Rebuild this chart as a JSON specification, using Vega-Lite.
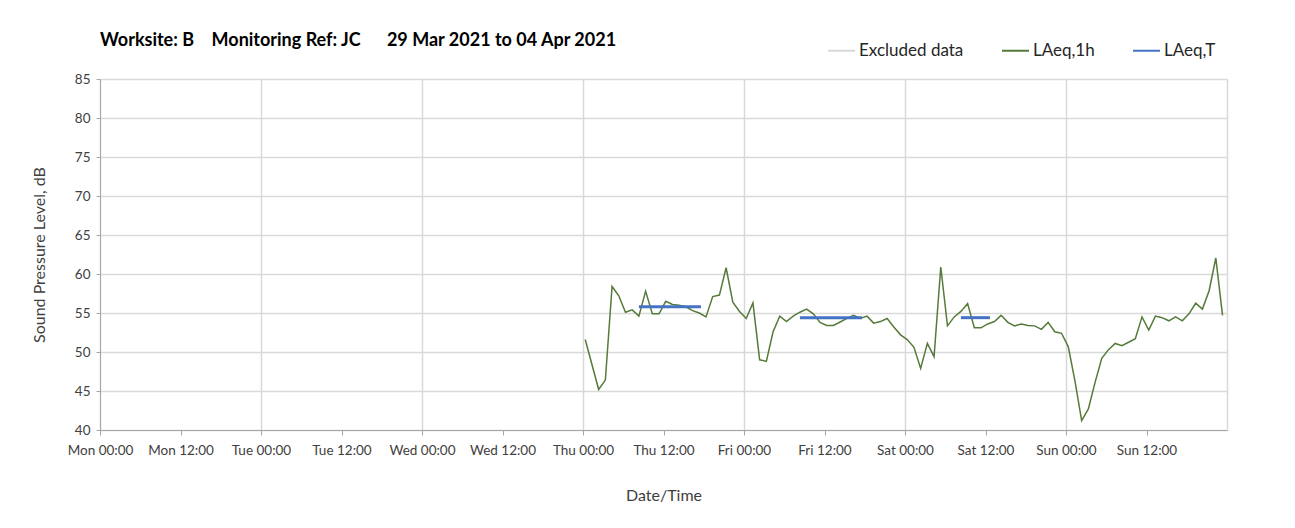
{
  "$schema": "https://vega.github.io/schema/vega-lite/v6.json",
  "width": 1295,
  "height": 528,
  "autosize": {"type": "fit", "contains": "padding"},
  "padding": {"left": 31, "top": 32, "right": 68, "bottom": 24},
  "title": {
    "text": "Worksite: B\u00a0\u00a0\u00a0 Monitoring Ref: JC\u00a0\u00a0\u00a0\u00a0\u00a0 29 Mar 2021 to 04 Apr 2021",
    "anchor": "start",
    "frame": "group",
    "fontSize": 18,
    "fontWeight": "bold",
    "color": "#000000",
    "offset": 22
  },
  "config": {
    "font": "Lato",
    "view": {"stroke": null},
    "axis": {
      "labelColor": "#404040",
      "titleColor": "#404040",
      "titleFontWeight": "normal",
      "domainColor": "#a6a6a6",
      "tickColor": "#a6a6a6",
      "gridColor": "#d9d9d9",
      "gridWidth": 1.5
    }
  },
  "resolve": {"axis": {"x": "independent"}},
  "layer": [
    {
      "data": {"values": [
      {"time": "2021-04-01T00:20:00", "level": 51.6, "series": "LAeq,1h"},
      {"time": "2021-04-01T01:20:00", "level": 48.4, "series": "LAeq,1h"},
      {"time": "2021-04-01T02:20:00", "level": 45.2, "series": "LAeq,1h"},
      {"time": "2021-04-01T03:20:00", "level": 46.4, "series": "LAeq,1h"},
      {"time": "2021-04-01T04:20:00", "level": 58.4, "series": "LAeq,1h"},
      {"time": "2021-04-01T05:20:00", "level": 57.2, "series": "LAeq,1h"},
      {"time": "2021-04-01T06:20:00", "level": 55.1, "series": "LAeq,1h"},
      {"time": "2021-04-01T07:20:00", "level": 55.4, "series": "LAeq,1h"},
      {"time": "2021-04-01T08:20:00", "level": 54.6, "series": "LAeq,1h"},
      {"time": "2021-04-01T09:20:00", "level": 57.8, "series": "LAeq,1h"},
      {"time": "2021-04-01T10:20:00", "level": 54.9, "series": "LAeq,1h"},
      {"time": "2021-04-01T11:20:00", "level": 54.9, "series": "LAeq,1h"},
      {"time": "2021-04-01T12:20:00", "level": 56.5, "series": "LAeq,1h"},
      {"time": "2021-04-01T13:20:00", "level": 56.1, "series": "LAeq,1h"},
      {"time": "2021-04-01T14:20:00", "level": 56.0, "series": "LAeq,1h"},
      {"time": "2021-04-01T15:20:00", "level": 55.8, "series": "LAeq,1h"},
      {"time": "2021-04-01T16:20:00", "level": 55.3, "series": "LAeq,1h"},
      {"time": "2021-04-01T17:20:00", "level": 55.0, "series": "LAeq,1h"},
      {"time": "2021-04-01T18:20:00", "level": 54.5, "series": "LAeq,1h"},
      {"time": "2021-04-01T19:20:00", "level": 57.1, "series": "LAeq,1h"},
      {"time": "2021-04-01T20:20:00", "level": 57.3, "series": "LAeq,1h"},
      {"time": "2021-04-01T21:20:00", "level": 60.8, "series": "LAeq,1h"},
      {"time": "2021-04-01T22:20:00", "level": 56.4, "series": "LAeq,1h"},
      {"time": "2021-04-01T23:20:00", "level": 55.2, "series": "LAeq,1h"},
      {"time": "2021-04-02T00:20:00", "level": 54.3, "series": "LAeq,1h"},
      {"time": "2021-04-02T01:20:00", "level": 56.3, "series": "LAeq,1h"},
      {"time": "2021-04-02T02:20:00", "level": 49.0, "series": "LAeq,1h"},
      {"time": "2021-04-02T03:20:00", "level": 48.8, "series": "LAeq,1h"},
      {"time": "2021-04-02T04:20:00", "level": 52.6, "series": "LAeq,1h"},
      {"time": "2021-04-02T05:20:00", "level": 54.6, "series": "LAeq,1h"},
      {"time": "2021-04-02T06:20:00", "level": 53.9, "series": "LAeq,1h"},
      {"time": "2021-04-02T07:20:00", "level": 54.6, "series": "LAeq,1h"},
      {"time": "2021-04-02T08:20:00", "level": 55.1, "series": "LAeq,1h"},
      {"time": "2021-04-02T09:20:00", "level": 55.5, "series": "LAeq,1h"},
      {"time": "2021-04-02T10:20:00", "level": 54.9, "series": "LAeq,1h"},
      {"time": "2021-04-02T11:20:00", "level": 53.8, "series": "LAeq,1h"},
      {"time": "2021-04-02T12:20:00", "level": 53.4, "series": "LAeq,1h"},
      {"time": "2021-04-02T13:20:00", "level": 53.4, "series": "LAeq,1h"},
      {"time": "2021-04-02T14:20:00", "level": 53.85, "series": "LAeq,1h"},
      {"time": "2021-04-02T15:20:00", "level": 54.3, "series": "LAeq,1h"},
      {"time": "2021-04-02T16:20:00", "level": 54.7, "series": "LAeq,1h"},
      {"time": "2021-04-02T17:20:00", "level": 54.3, "series": "LAeq,1h"},
      {"time": "2021-04-02T18:20:00", "level": 54.6, "series": "LAeq,1h"},
      {"time": "2021-04-02T19:20:00", "level": 53.7, "series": "LAeq,1h"},
      {"time": "2021-04-02T20:20:00", "level": 53.9, "series": "LAeq,1h"},
      {"time": "2021-04-02T21:20:00", "level": 54.3, "series": "LAeq,1h"},
      {"time": "2021-04-02T22:20:00", "level": 53.2, "series": "LAeq,1h"},
      {"time": "2021-04-02T23:20:00", "level": 52.2, "series": "LAeq,1h"},
      {"time": "2021-04-03T00:20:00", "level": 51.6, "series": "LAeq,1h"},
      {"time": "2021-04-03T01:20:00", "level": 50.6, "series": "LAeq,1h"},
      {"time": "2021-04-03T02:20:00", "level": 47.9, "series": "LAeq,1h"},
      {"time": "2021-04-03T03:20:00", "level": 51.1, "series": "LAeq,1h"},
      {"time": "2021-04-03T04:20:00", "level": 49.4, "series": "LAeq,1h"},
      {"time": "2021-04-03T05:20:00", "level": 60.9, "series": "LAeq,1h"},
      {"time": "2021-04-03T06:20:00", "level": 53.35, "series": "LAeq,1h"},
      {"time": "2021-04-03T07:20:00", "level": 54.5, "series": "LAeq,1h"},
      {"time": "2021-04-03T08:20:00", "level": 55.2, "series": "LAeq,1h"},
      {"time": "2021-04-03T09:20:00", "level": 56.2, "series": "LAeq,1h"},
      {"time": "2021-04-03T10:20:00", "level": 53.1, "series": "LAeq,1h"},
      {"time": "2021-04-03T11:20:00", "level": 53.1, "series": "LAeq,1h"},
      {"time": "2021-04-03T12:20:00", "level": 53.6, "series": "LAeq,1h"},
      {"time": "2021-04-03T13:20:00", "level": 53.9, "series": "LAeq,1h"},
      {"time": "2021-04-03T14:20:00", "level": 54.7, "series": "LAeq,1h"},
      {"time": "2021-04-03T15:20:00", "level": 53.8, "series": "LAeq,1h"},
      {"time": "2021-04-03T16:20:00", "level": 53.35, "series": "LAeq,1h"},
      {"time": "2021-04-03T17:20:00", "level": 53.6, "series": "LAeq,1h"},
      {"time": "2021-04-03T18:20:00", "level": 53.4, "series": "LAeq,1h"},
      {"time": "2021-04-03T19:20:00", "level": 53.35, "series": "LAeq,1h"},
      {"time": "2021-04-03T20:20:00", "level": 52.9, "series": "LAeq,1h"},
      {"time": "2021-04-03T21:20:00", "level": 53.8, "series": "LAeq,1h"},
      {"time": "2021-04-03T22:20:00", "level": 52.6, "series": "LAeq,1h"},
      {"time": "2021-04-03T23:20:00", "level": 52.4, "series": "LAeq,1h"},
      {"time": "2021-04-04T00:20:00", "level": 50.7, "series": "LAeq,1h"},
      {"time": "2021-04-04T01:20:00", "level": 46.3, "series": "LAeq,1h"},
      {"time": "2021-04-04T02:20:00", "level": 41.2, "series": "LAeq,1h"},
      {"time": "2021-04-04T03:20:00", "level": 42.7, "series": "LAeq,1h"},
      {"time": "2021-04-04T04:20:00", "level": 46.1, "series": "LAeq,1h"},
      {"time": "2021-04-04T05:20:00", "level": 49.2, "series": "LAeq,1h"},
      {"time": "2021-04-04T06:20:00", "level": 50.3, "series": "LAeq,1h"},
      {"time": "2021-04-04T07:20:00", "level": 51.1, "series": "LAeq,1h"},
      {"time": "2021-04-04T08:20:00", "level": 50.8, "series": "LAeq,1h"},
      {"time": "2021-04-04T09:20:00", "level": 51.25, "series": "LAeq,1h"},
      {"time": "2021-04-04T10:20:00", "level": 51.7, "series": "LAeq,1h"},
      {"time": "2021-04-04T11:20:00", "level": 54.5, "series": "LAeq,1h"},
      {"time": "2021-04-04T12:20:00", "level": 52.8, "series": "LAeq,1h"},
      {"time": "2021-04-04T13:20:00", "level": 54.6, "series": "LAeq,1h"},
      {"time": "2021-04-04T14:20:00", "level": 54.4, "series": "LAeq,1h"},
      {"time": "2021-04-04T15:20:00", "level": 54.0, "series": "LAeq,1h"},
      {"time": "2021-04-04T16:20:00", "level": 54.5, "series": "LAeq,1h"},
      {"time": "2021-04-04T17:20:00", "level": 54.0, "series": "LAeq,1h"},
      {"time": "2021-04-04T18:20:00", "level": 54.9, "series": "LAeq,1h"},
      {"time": "2021-04-04T19:20:00", "level": 56.25, "series": "LAeq,1h"},
      {"time": "2021-04-04T20:20:00", "level": 55.5, "series": "LAeq,1h"},
      {"time": "2021-04-04T21:20:00", "level": 57.85, "series": "LAeq,1h"},
      {"time": "2021-04-04T22:20:00", "level": 62.05, "series": "LAeq,1h"},
      {"time": "2021-04-04T23:20:00", "level": 54.7, "series": "LAeq,1h"}
      ]},
      "mark": {"type": "line", "strokeWidth": 1.5},
      "encoding": {
        "x": {
          "field": "time",
          "type": "temporal",
          "scale": {
            "domain": [
              {"year": 2021, "month": 3, "date": 29},
              {"year": 2021, "month": 4, "date": 5}
            ]
          },
          "axis": {
            "title": "Date/Time",
            "titleFontSize": 16,
            "titlePadding": 31,
            "format": "%a %H:%M",
            "values": [
              {"year": 2021, "month": 3, "date": 29, "hours": 0},
              {"year": 2021, "month": 3, "date": 29, "hours": 12},
              {"year": 2021, "month": 3, "date": 30, "hours": 0},
              {"year": 2021, "month": 3, "date": 30, "hours": 12},
              {"year": 2021, "month": 3, "date": 31, "hours": 0},
              {"year": 2021, "month": 3, "date": 31, "hours": 12},
              {"year": 2021, "month": 4, "date": 1, "hours": 0},
              {"year": 2021, "month": 4, "date": 1, "hours": 12},
              {"year": 2021, "month": 4, "date": 2, "hours": 0},
              {"year": 2021, "month": 4, "date": 2, "hours": 12},
              {"year": 2021, "month": 4, "date": 3, "hours": 0},
              {"year": 2021, "month": 4, "date": 3, "hours": 12},
              {"year": 2021, "month": 4, "date": 4, "hours": 0},
              {"year": 2021, "month": 4, "date": 4, "hours": 12}
            ],
            "labelFontSize": 13.5,
            "labelPadding": 8,
            "labelOverlap": false,
            "labelFlush": false,
            "tickSize": 5,
            "grid": false
          }
        },
        "y": {
          "field": "level",
          "type": "quantitative",
          "scale": {"domain": [40, 85], "zero": false},
          "axis": {
            "title": "Sound Pressure Level, dB",
            "titleFontSize": 16,
            "titlePadding": 27,
            "labelFontSize": 13.5,
            "labelPadding": 6,
            "labelOverlap": false,
            "tickSize": 4,
            "grid": true
          }
        },
        "color": {
          "field": "series",
          "type": "nominal",
          "scale": {
            "domain": ["Excluded data", "LAeq,1h", "LAeq,T"],
            "range": ["#d9d9d9", "#557a3a", "#4472c4"]
          },
          "legend": {
            "title": null,
            "orient": "none",
            "legendX": 727,
            "legendY": -43,
            "direction": "horizontal",
            "symbolType": "stroke",
            "symbolSize": 729,
            "symbolStrokeWidth": 2,
            "labelFontSize": 17,
            "labelColor": "#262626",
            "labelOffset": 3,
            "columnPadding": 34
          }
        }
      }
    },
    {
      "data": {"values": [
        {"start": "2021-04-01T08:20:00", "end": "2021-04-01T17:35:00", "level": 55.8, "series": "LAeq,T"},
        {"start": "2021-04-02T08:20:00", "end": "2021-04-02T17:35:00", "level": 54.4, "series": "LAeq,T"},
        {"start": "2021-04-03T08:20:00", "end": "2021-04-03T12:40:00", "level": 54.4, "series": "LAeq,T"}
      ]},
      "mark": {"type": "rule", "strokeWidth": 3},
      "encoding": {
        "x": {
          "field": "start",
          "type": "temporal",
          "axis": {
            "orient": "top",
            "title": null,
            "grid": true,
            "labels": false,
            "ticks": false,
            "domain": false,
            "values": [
              {"year": 2021, "month": 3, "date": 29},
              {"year": 2021, "month": 3, "date": 30},
              {"year": 2021, "month": 3, "date": 31},
              {"year": 2021, "month": 4, "date": 1},
              {"year": 2021, "month": 4, "date": 2},
              {"year": 2021, "month": 4, "date": 3},
              {"year": 2021, "month": 4, "date": 4},
              {"year": 2021, "month": 4, "date": 5}
            ]
          }
        },
        "x2": {"field": "end"},
        "y": {"field": "level", "type": "quantitative"},
        "color": {"field": "series", "type": "nominal"}
      }
    }
  ]
}
